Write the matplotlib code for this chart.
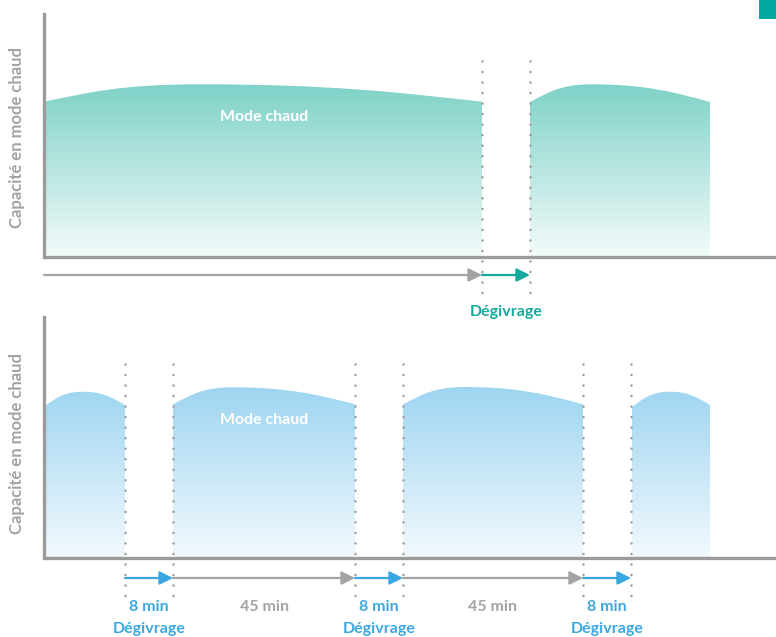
import numpy as np
import matplotlib
matplotlib.use("Agg")
import matplotlib.pyplot as plt
from matplotlib.path import Path
from matplotlib.patches import PathPatch, Rectangle
from matplotlib.colors import LinearSegmentedColormap

# ---- data (figure laid out in pixel units: x to the right, y downwards) ----
# upper panel: heating humps (start, peak, end) and defrost boundaries
top_x0 = [44, 530]
top_xp = [200, 592]
top_x1 = [482, 710]
top_y0 = [101.7, 102]
top_yp = [84.3, 84.3]
top_y1 = [101.7, 102]
top_defrost = [482, 530]

# lower panel: cycles of 8 min defrost / 45 min heating
bot_x0 = [44, 173, 403, 632]
bot_xp = [83, 233, 465, 670]
bot_x1 = [125, 355, 583, 710]
bot_y0 = [406.7, 404.3, 404.3, 407]
bot_yp = [391.7, 387.3, 387.0, 391.7]
bot_y1 = [405, 404.3, 404.3, 405]
bot_defrost = [125, 173, 355, 403, 583, 631]
bot_defrost_label = "8 min"
bot_heat_label = "45 min"

y_title = "Capacité en mode chaud"
mode_label = "Mode chaud"
defrost_label = "Dégivrage"

# ---- styles ----
TEAL = "#14a99c"
BLUE = "#3aa8e0"
GREY_AX = "#9b9b9b"
GREY_ARROW = "#a3a3a3"
GREY_TXT = "#a3a3a3"
DOT = "#9a9a9a"
FONT = "Lato"
FS = 11.5

fig = plt.figure(figsize=(7.76, 6.37), dpi=100)
ax = fig.add_axes([0, 0, 1, 1])
ax.set_xlim(0, 776)
ax.set_ylim(637, 0)
ax.axis("off")


def hump_path(x0, xp, x1, y0, yp, y1, base):
    verts = [
        (x0, base), (x0, y0),
        (x0 + 0.3 * (xp - x0), y0 - 0.55 * (y0 - yp)), (xp - 0.5 * (xp - x0), yp), (xp, yp),
        (xp + 0.45 * (x1 - xp), yp), (x1 - 0.3 * (x1 - xp), y1 - 0.55 * (y1 - yp)), (x1, y1),
        (x1, base), (x0, base),
    ]
    codes = [Path.MOVETO, Path.LINETO,
             Path.CURVE4, Path.CURVE4, Path.CURVE4,
             Path.CURVE4, Path.CURVE4, Path.CURVE4,
             Path.LINETO, Path.CLOSEPOLY]
    return Path(verts, codes)


def gradient_humps(x0s, xps, x1s, y0s, yps, y1s, base, top, c_top, c_bot):
    cmap = LinearSegmentedColormap.from_list("g", [c_top, c_bot])
    grad = np.linspace(0, 1, 256).reshape(-1, 1)
    for x0, xp, x1, y0, yp, y1 in zip(x0s, xps, x1s, y0s, yps, y1s):
        path = hump_path(x0, xp, x1, y0, yp, y1, base)
        patch = PathPatch(path, facecolor="none", edgecolor="none", transform=ax.transData)
        ax.add_patch(patch)
        im = ax.imshow(grad, extent=(x0, x1, base, top), aspect="auto", cmap=cmap,
                       origin="upper", interpolation="bilinear", zorder=1)
        im.set_clip_path(patch)


def dotted(xs, ya, yb):
    for x in xs:
        ax.plot([x, x], [ya, yb], color=DOT, lw=1.8, linestyle=(0, (0.01, 4.2)),
                dash_capstyle="round", solid_capstyle="round", zorder=3)


def arrow(xa, xb, y, color):
    ax.annotate("", xy=(xb, y), xytext=(xa, y),
                arrowprops=dict(arrowstyle="-|>,head_length=0.4,head_width=0.2",
                                color=color, lw=1.6, mutation_scale=20,
                                shrinkA=0, shrinkB=0), zorder=4)


def label(x, y, s, color, size=FS, **kw):
    ax.text(x, y, s, color=color, fontsize=size, fontweight="bold", family=FONT,
            ha="center", va="center", **kw)


# ---- upper panel ----
gradient_humps(top_x0, top_xp, top_x1, top_y0, top_yp, top_y1, 257, 84,
               "#7fd2c8", "#f3fbfa")
ax.plot([44, 44, 776], [14, 257, 257], color=GREY_AX, lw=2.4,
        solid_joinstyle="miter", zorder=5)
dotted(top_defrost, 61, 296)
arrow(44, top_defrost[0], 275, GREY_ARROW)
arrow(top_defrost[0], top_defrost[1], 275, TEAL)
label(264, 117, mode_label, "white", zorder=6)
label(sum(top_defrost) / 2, 312, defrost_label, TEAL)
label(17, 138, y_title, GREY_TXT, size=12, rotation=90)

# ---- lower panel ----
gradient_humps(bot_x0, bot_xp, bot_x1, bot_y0, bot_yp, bot_y1, 558, 386,
               "#9dd5f1", "#f3f9fd")
ax.plot([44, 44, 776], [317, 558, 558], color=GREY_AX, lw=2.4,
        solid_joinstyle="miter", zorder=5)
dotted(bot_defrost, 364, 606)
for i in range(0, len(bot_defrost), 2):
    xa, xb = bot_defrost[i], bot_defrost[i + 1]
    arrow(xa, xb, 578, BLUE)
    xc = (xa + xb) / 2
    label(xc, 607, bot_defrost_label, BLUE)
    label(xc, 629, defrost_label, BLUE)
    if i + 2 < len(bot_defrost):
        xn = bot_defrost[i + 2]
        arrow(xb, xn, 578, GREY_ARROW)
        label((xb + xn) / 2, 607, bot_heat_label, GREY_TXT)
label(264, 420, mode_label, "white", zorder=6)
label(17, 443, y_title, GREY_TXT, size=12, rotation=90)

# corner marker
ax.add_patch(Rectangle((758.5, 0), 17.5, 19, facecolor="#00a99d", edgecolor="none", zorder=6))

fig.savefig("out.png", dpi=100)
